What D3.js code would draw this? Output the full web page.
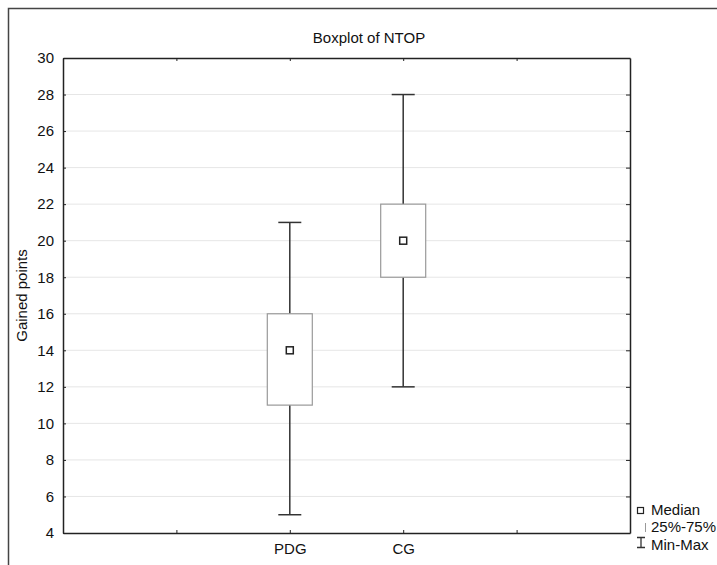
<!DOCTYPE html>
<html>
<head>
<meta charset="utf-8">
<script src="https://cdn.jsdelivr.net/npm/d3@7"></script>
<style>
  body { margin: 0; background: #fff; }
  svg { display: block; font-family: "Liberation Sans", Arial, sans-serif; }
</style>
</head>
<body>
<svg id="chart" width="717" height="565"></svg>
<script>
// data
var groups = ["PDG", "CG"];
var groupPos = [2, 3];        // slot on the x axis (0..5)
var mins = [5, 12];
var q1s = [11, 18];
var medians = [14, 20];
var q3s = [16, 22];
var maxs = [21, 28];
var yTicks = [4, 6, 8, 10, 12, 14, 16, 18, 20, 22, 24, 26, 28, 30];
var xTicks = [1, 2, 3, 4];

var svg = d3.select("#chart");
var margin = { top: 58, right: 87, bottom: 32, left: 63 };
var w = 717, h = 565;
var width = w - margin.left - margin.right,
    height = h - margin.top - margin.bottom;

// outer frame (runs off the right and bottom edges)
svg.append("rect")
    .attr("x", 8.5).attr("y", 8.5)
    .attr("width", 760).attr("height", 600)
    .attr("fill", "none")
    .attr("stroke", "#444")
    .attr("stroke-width", 1.5);

var g = svg.append("g").attr("transform", "translate(" + margin.left + "," + margin.top + ")");

var x = d3.scaleLinear().domain([0, 5]).range([0, width]);
var y = d3.scaleLinear().domain([4, 30]).range([height, 0]);

// grid lines
g.append("g")
    .selectAll("line")
    .data(yTicks.slice(1, -1))
    .enter().append("line")
    .attr("x1", 0).attr("x2", width)
    .attr("y1", function (d) { return y(d); })
    .attr("y2", function (d) { return y(d); })
    .attr("stroke", "#e6e6e6")
    .attr("stroke-width", 1);

// axes, ticks point inwards
var tickLabel = function (d) { var i = groupPos.indexOf(d); return i > -1 ? groups[i] : ""; };

var leftAx = g.append("g").attr("class", "yaxis")
    .call(d3.axisLeft(y).tickValues(yTicks).tickSizeInner(-3).tickSizeOuter(0).tickPadding(9));
var rightAx = g.append("g").attr("transform", "translate(" + width + ",0)")
    .call(d3.axisRight(y).tickValues(yTicks).tickSizeInner(-4).tickSizeOuter(0).tickFormat(""));
var bottomAx = g.append("g").attr("class", "xaxis").attr("transform", "translate(0," + height + ")")
    .call(d3.axisBottom(x).tickValues(xTicks).tickFormat(tickLabel).tickSizeInner(-3).tickSizeOuter(0).tickPadding(10));
var topAx = g.append("g")
    .call(d3.axisTop(x).tickValues(xTicks).tickFormat("").tickSizeInner(-3).tickSizeOuter(0));

[leftAx, rightAx, bottomAx, topAx].forEach(function (a) {
    a.select(".domain").attr("stroke", "#222").attr("stroke-width", 1.5);
    a.selectAll(".tick line").attr("stroke", "#222");
    a.selectAll("text").attr("fill", "#111").attr("font-size", 15).attr("font-family", "Liberation Sans, Arial, sans-serif");
});

// the boxes
var boxW = 45, capW = 23;
var rows = groups.map(function (k, i) {
    return { key: k, pos: groupPos[i], min: mins[i], q1: q1s[i], med: medians[i], q3: q3s[i], max: maxs[i] };
});

var box = g.append("g").selectAll("g")
    .data(rows)
    .enter().append("g")
    .attr("transform", function (d) { return "translate(" + x(d.pos) + ",0)"; });

box.append("line")
    .attr("x1", 0).attr("x2", 0)
    .attr("y1", function (d) { return y(d.max); })
    .attr("y2", function (d) { return y(d.q3); })
    .attr("stroke", "#333").attr("stroke-width", 1.5);
box.append("line")
    .attr("x1", 0).attr("x2", 0)
    .attr("y1", function (d) { return y(d.q1); })
    .attr("y2", function (d) { return y(d.min); })
    .attr("stroke", "#333").attr("stroke-width", 1.5);
box.append("line")
    .attr("x1", -capW / 2).attr("x2", capW / 2)
    .attr("y1", function (d) { return y(d.max); })
    .attr("y2", function (d) { return y(d.max); })
    .attr("stroke", "#333").attr("stroke-width", 1.5);
box.append("line")
    .attr("x1", -capW / 2).attr("x2", capW / 2)
    .attr("y1", function (d) { return y(d.min); })
    .attr("y2", function (d) { return y(d.min); })
    .attr("stroke", "#333").attr("stroke-width", 1.5);
box.append("rect")
    .attr("x", -boxW / 2)
    .attr("width", boxW)
    .attr("y", function (d) { return y(d.q3); })
    .attr("height", function (d) { return y(d.q1) - y(d.q3); })
    .attr("fill", "#fff")
    .attr("stroke", "#999").attr("stroke-width", 1.2);
box.append("rect")
    .attr("x", -3.5).attr("width", 7).attr("height", 7)
    .attr("y", function (d) { return y(d.med) - 3.5; })
    .attr("fill", "#fff")
    .attr("stroke", "#222").attr("stroke-width", 1.5);

// title and y label
svg.append("text")
    .attr("x", 369).attr("y", 43)
    .attr("text-anchor", "middle")
    .attr("font-size", 15).attr("fill", "#111")
    .text("Boxplot of NTOP");

svg.append("text")
    .attr("transform", "translate(27," + (margin.top + height / 2) + ") rotate(-90)")
    .attr("text-anchor", "middle")
    .attr("font-size", 15).attr("fill", "#111")
    .text("Gained points");

// legend
var lg = svg.append("g").attr("font-size", 15).attr("fill", "#111");
lg.append("rect").attr("x", 637.5).attr("y", 507.5).attr("width", 6).attr("height", 6)
    .attr("fill", "#fff").attr("stroke", "#222").attr("stroke-width", 1.2);
lg.append("text").attr("x", 651).attr("y", 515).text("Median");
lg.append("line").attr("x1", 645.5).attr("x2", 645.5).attr("y1", 523).attr("y2", 532)
    .attr("stroke", "#999");
lg.append("text").attr("x", 651).attr("y", 532).text("25%-75%");
lg.append("path").attr("d", "M637,537.5H645M641,537.5V547.5M637,547.5H645")
    .attr("fill", "none").attr("stroke", "#333").attr("stroke-width", 1.3);
lg.append("text").attr("x", 651).attr("y", 550).text("Min-Max");
</script>
</body>
</html>
